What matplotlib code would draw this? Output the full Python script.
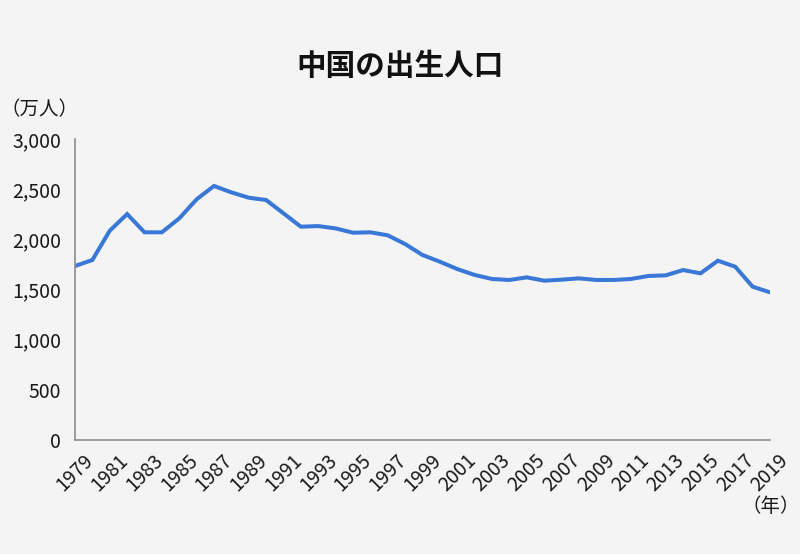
import matplotlib
matplotlib.use("Agg")
import matplotlib.pyplot as plt
from matplotlib.ticker import FuncFormatter

plt.rcParams['font.family'] = ['Noto Sans CJK JP', 'DejaVu Sans']

# 出生人口（万人）
years = list(range(1979, 2020))
births = [1734, 1794, 2086, 2252, 2070, 2070, 2209, 2399, 2532, 2468,
          2415, 2392, 2259, 2126, 2132, 2109, 2066, 2070, 2040, 1953,
          1844, 1777, 1704, 1645, 1605, 1595, 1621, 1588, 1598, 1611,
          1595, 1595, 1605, 1635, 1641, 1694, 1661, 1787, 1727, 1528,
          1472]
tick_years = years[::2]

title = "中国の出生人口"
y_unit = "（万人）"
x_unit = "（年）"

bg = "#f4f4f4"
fig = plt.figure(figsize=(8, 5.54), dpi=100, facecolor=bg)
ax = fig.add_axes([75/800, 1 - 440/554, 695/800, 301/554])
ax.set_facecolor(bg)

ax.plot(years, births, color="#3a78d8", lw=2.9, solid_joinstyle="miter")

ax.set_xlim(years[0], years[-1])
ax.set_ylim(0, 3000)
ax.set_yticks(range(0, 3001, 500))
ax.yaxis.set_major_formatter(FuncFormatter(lambda v, p: f"{int(v):,}"))
ax.set_xticks(tick_years)
ax.set_xticklabels([str(y) for y in tick_years], rotation=45,
                   ha="center", va="top")

ax.tick_params(axis="both", length=0, labelsize=14, colors="#1a1a1a")
ax.tick_params(axis="y", pad=10)
ax.tick_params(axis="x", pad=7)

for s in ["top", "right"]:
    ax.spines[s].set_visible(False)
for s in ["left", "bottom"]:
    ax.spines[s].set_color("#8c8c8c")
    ax.spines[s].set_linewidth(1.2)

fig.text(0.5, 1 - 66/554, title, ha="center", va="center",
         fontsize=21.3, fontweight="bold", color="#111111")
# fullwidth parens carry half an em of blank space, so anchor at the left edge
fig.text(1/800, 1 - 110/554, y_unit, ha="left", va="center",
         fontsize=14, color="#1a1a1a")
fig.text(771/800, 1 - 506/554, x_unit, ha="center", va="center",
         fontsize=14, color="#1a1a1a")

fig.savefig("out.png", dpi=100, facecolor=bg)
